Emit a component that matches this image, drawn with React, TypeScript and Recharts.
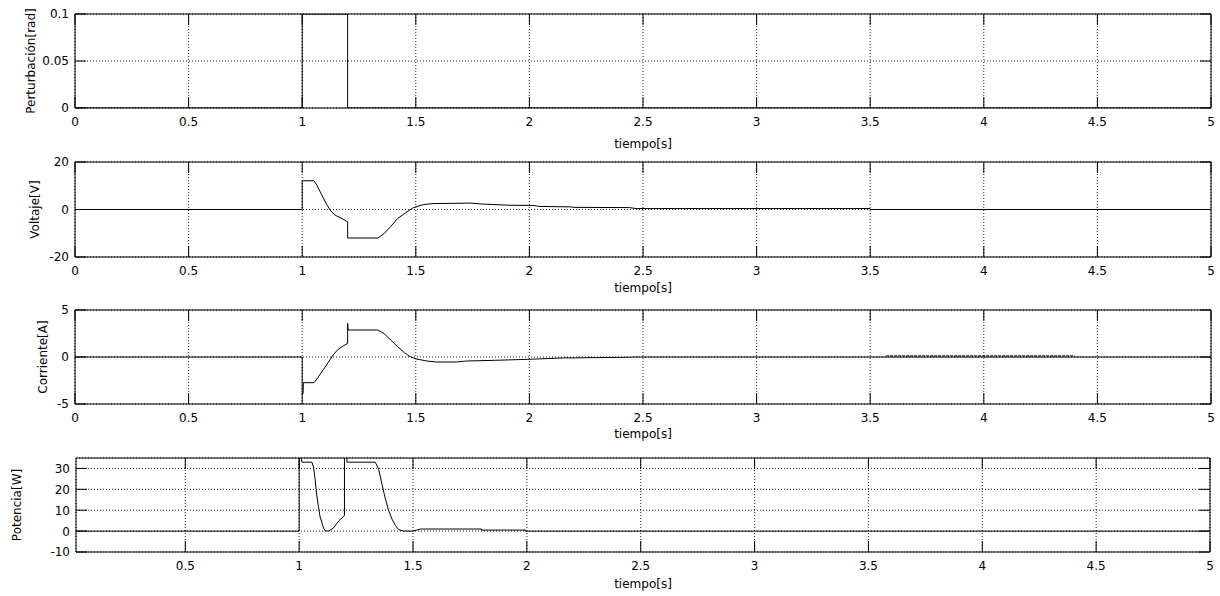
import React from "react";
import {
  LineChart,
  Line,
  XAxis,
  YAxis,
  CartesianGrid,
  ReferenceArea,
} from "recharts";

// ---- data ----

// tiempo[s] ticks
const tiempoTicks = [0, 0.5, 1, 1.5, 2, 2.5, 3, 3.5, 4, 4.5, 5];
const tiempoTicksPot = [0.5, 1, 1.5, 2, 2.5, 3, 3.5, 4, 4.5, 5];

// Perturbación[rad]
const pertT = [0, 1, 1, 1.2, 1.2, 5];
const pertV = [0, 0, 0.1, 0.1, 0, 0];
const pertTicks = [0, 0.05, 0.1];

// Voltaje[V]
const voltT = [
  0, 1, 1, 1.052, 1.065, 1.079, 1.095, 1.108, 1.123, 1.145, 1.175, 1.2, 1.2,
  1.333, 1.36, 1.39, 1.42, 1.455, 1.49, 1.535, 1.58, 1.74, 1.79, 1.91, 2.02,
  2.04, 2.18, 2.2, 2.44, 2.47, 3.5, 3.5, 5,
];
const voltV = [
  0, 0, 12.1, 12.1, 10.2, 7.5, 4.5, 2.1, -0.3, -2.4, -3.8, -5.2, -12, -12,
  -10.2, -7.1, -3.8, -1.4, 0.8, 2.1, 2.5, 2.7, 2.3, 1.8, 1.7, 1.3, 1.1, 0.9,
  0.8, 0.4, 0.4, 0, 0,
];
const voltTicks = [-20, 0, 20];

// Corriente[A]
const corrT = [
  0, 1, 1, 1.004, 1.005, 1.052, 1.07, 1.092, 1.114, 1.136, 1.158, 1.18, 1.2,
  1.2, 1.202, 1.333, 1.36, 1.39, 1.42, 1.45, 1.475, 1.5, 1.55, 1.59, 1.68,
  1.72, 1.85, 1.99, 2.15, 2.43, 2.46, 5,
];
const corrV = [
  0, 0, -3.9, -3.9, -2.73, -2.73, -2.16, -1.38, -0.6, 0.21, 0.82, 1.17, 1.45,
  3.58, 2.87, 2.87, 2.5, 1.8, 1.1, 0.46, 0.04, -0.2, -0.43, -0.53, -0.53,
  -0.43, -0.35, -0.25, -0.1, -0.03, 0, 0,
];
const corrRuidoT = [3.57, 4.4];
const corrRuidoV = [0.12, 0.12];
const corrTicks = [-5, 0, 5];

// Potencia[W]
const potT = [
  0.02, 1, 1, 1.012, 1.056, 1.063, 1.07, 1.077, 1.085, 1.092, 1.1, 1.107,
  1.114, 1.129, 1.151, 1.173, 1.199, 1.199, 1.21, 1.21, 1.334, 1.349, 1.364,
  1.378, 1.393, 1.408, 1.422, 1.437, 1.459, 1.5, 1.532, 1.8, 1.8, 1.993,
  1.993, 5,
];
const potV = [
  0, 0, 40, 33, 33, 30.7, 24.8, 17.3, 11.5, 6.8, 4, 1.5, 0.2, 0, 1.5, 4.8,
  7.5, 40, 40, 33, 33, 29.8, 22.3, 15.7, 9.8, 5.7, 2.8, 0.7, 0, 0, 1, 1, 0.5,
  0.5, 0, 0,
];
const potTicks = [-10, 0, 10, 20, 30];

// ---- layout ----
const W = 1220;
const H = 596;
const TICK_LEN = 11;
const FONT = "DejaVu Sans";

const toRows = (t: number[], v: number[]) => t.map((x, i) => ({ t: x, v: v[i] }));

type Series = { name: string; data: { t: number; v: number }[]; dash?: string };

type PanelCfg = {
  top: number;
  bottom: number;
  left: number;
  right: number;
  xDomain: [number, number];
  xTicks: number[];
  yDomain: [number, number];
  yTicks: number[];
  yLabel: string;
  yLabelX: number;
  xLabelGap: number;
};

const makeXTick = (plotH: number) => (props: any) => {
  const { x, y, payload } = props;
  return (
    <g>
      <line x1={x} x2={x} y1={y} y2={y - TICK_LEN} stroke="#000" />
      <line x1={x} x2={x} y1={y - plotH} y2={y - plotH + TICK_LEN} stroke="#000" />
      <text x={x} y={y + 18} textAnchor="middle" fontSize={12} fontFamily={FONT} fill="#000">
        {String(payload.value)}
      </text>
    </g>
  );
};

const makeYTick = (plotW: number) => (props: any) => {
  const { x, y, payload } = props;
  return (
    <g>
      <line x1={x} x2={x + TICK_LEN} y1={y} y2={y} stroke="#000" />
      <line x1={x + plotW} x2={x + plotW - TICK_LEN} y1={y} y2={y} stroke="#000" />
      <text x={x - 6} y={y + 4.4} textAnchor="end" fontSize={12} fontFamily={FONT} fill="#000">
        {String(payload.value)}
      </text>
    </g>
  );
};

const Panel = ({ cfg, series }: { cfg: PanelCfg; series: Series[] }) => {
  const plotW = cfg.right - cfg.left;
  const plotH = cfg.bottom - cfg.top;
  const cx = (cfg.left + cfg.right) / 2;
  const cy = (cfg.top + cfg.bottom) / 2;
  return (
    <div style={{ position: "absolute", left: 0, top: 0 }}>
      <LineChart
        width={W}
        height={H}
        margin={{ top: cfg.top, bottom: H - cfg.bottom - 30, left: cfg.left - 60, right: W - cfg.right }}
      >
        <CartesianGrid stroke="#222" strokeDasharray="1 2" />
        <XAxis
          type="number"
          dataKey="t"
          domain={cfg.xDomain}
          ticks={cfg.xTicks}
          interval={0}
          allowDataOverflow
          axisLine={false}
          tickLine={false}
          tickSize={0}
          tickMargin={0}
          height={30}
          tick={makeXTick(plotH)}
          label={() => (
            <text x={cx} y={cfg.bottom + cfg.xLabelGap} textAnchor="middle" fontSize={12} fontFamily={FONT} fill="#000">
              tiempo[s]
            </text>
          )}
        />
        <YAxis
          type="number"
          domain={cfg.yDomain}
          ticks={cfg.yTicks}
          interval={0}
          allowDataOverflow
          axisLine={false}
          tickLine={false}
          tickSize={0}
          tickMargin={0}
          width={60}
          tick={makeYTick(plotW)}
          label={() => (
            <text
              x={cfg.yLabelX}
              y={cy}
              transform={`rotate(-90 ${cfg.yLabelX} ${cy})`}
              textAnchor="middle"
              fontSize={12}
              fontFamily={FONT}
              fill="#000"
            >
              {cfg.yLabel}
            </text>
          )}
        />
        {series.map((s) => (
          <Line
            key={s.name}
            name={s.name}
            data={s.data}
            dataKey="v"
            type="linear"
            stroke="#000"
            strokeWidth={1}
            strokeDasharray={s.dash}
            dot={false}
            activeDot={false}
            isAnimationActive={false}
          />
        ))}
        <ReferenceArea
          x1={cfg.xDomain[0]}
          x2={cfg.xDomain[1]}
          y1={cfg.yDomain[0]}
          y2={cfg.yDomain[1]}
          fill="none"
          stroke="#000"
          ifOverflow="visible"
        />
      </LineChart>
    </div>
  );
};

const panels: { cfg: PanelCfg; series: Series[] }[] = [
  {
    cfg: {
      top: 14, bottom: 108, left: 75, right: 1211,
      xDomain: [0, 5], xTicks: tiempoTicks, yDomain: [0, 0.1], yTicks: pertTicks,
      yLabel: "Perturbación[rad]", yLabelX: 34.5, xLabelGap: 40,
    },
    series: [{ name: "perturbacion", data: toRows(pertT, pertV) }],
  },
  {
    cfg: {
      top: 162, bottom: 257, left: 75, right: 1211,
      xDomain: [0, 5], xTicks: tiempoTicks, yDomain: [-20, 20], yTicks: voltTicks,
      yLabel: "Voltaje[V]", yLabelX: 38.5, xLabelGap: 35,
    },
    series: [{ name: "voltaje", data: toRows(voltT, voltV) }],
  },
  {
    cfg: {
      top: 310, bottom: 404, left: 75, right: 1211,
      xDomain: [0, 5], xTicks: tiempoTicks, yDomain: [-5, 5], yTicks: corrTicks,
      yLabel: "Corriente[A]", yLabelX: 47, xLabelGap: 34,
    },
    series: [
      { name: "corriente", data: toRows(corrT, corrV) },
      { name: "corriente-ruido", data: toRows(corrRuidoT, corrRuidoV), dash: "3 1" },
    ],
  },
  {
    cfg: {
      top: 458, bottom: 552, left: 76, right: 1210,
      xDomain: [0.02, 5], xTicks: tiempoTicksPot, yDomain: [-10, 35], yTicks: potTicks,
      yLabel: "Potencia[W]", yLabelX: 21, xLabelGap: 35.5,
    },
    series: [{ name: "potencia", data: toRows(potT, potV) }],
  },
];

const App: React.FC = () => {
  return (
    <div style={{ position: "absolute", left: 0, top: 0, width: W, height: H, background: "#fff" }}>
      {panels.map((p, i) => (
        <Panel key={i} cfg={p.cfg} series={p.series} />
      ))}
    </div>
  );
};

export default App;
